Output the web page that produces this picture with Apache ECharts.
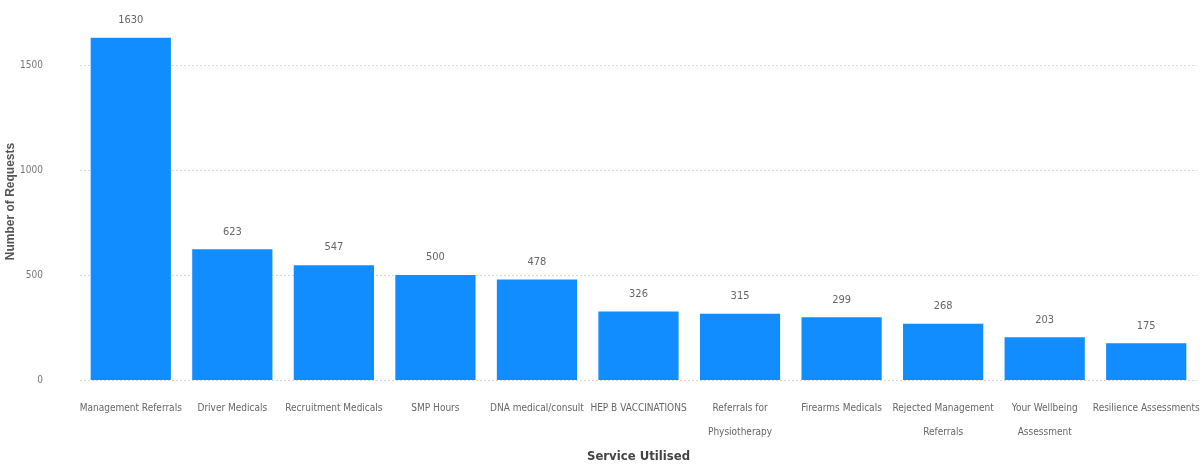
<!DOCTYPE html>
<html><head><meta charset="utf-8">
<script src="https://cdn.jsdelivr.net/npm/echarts@6/dist/echarts.min.js"></script>
<style>html,body{margin:0;padding:0;background:#fff}#c{width:1203px;height:464px}</style>
</head><body><div id="c"></div>
<script>
const categories = ["Management Referrals","Driver Medicals","Recruitment Medicals","SMP Hours","DNA medical/consult","HEP B VACCINATIONS","Referrals for\nPhysiotherapy","Firearms Medicals","Rejected Management\nReferrals","Your Wellbeing\nAssessment","Resilience Assessments"];
const requests = [1630,623,547,500,478,326,315,299,268,203,175];
const yTicks = [0,500,1000,1500];

const FONT = "'DejaVu Sans Condensed','Liberation Sans',sans-serif";
const chart = echarts.init(document.getElementById('c'));
chart.setOption({
  animation:false,
  grid:{left:80,right:6,top:23,bottom:84,containLabel:false,outerBoundsMode:'none'},
  xAxis:{type:'category',data:categories,
    axisLine:{show:false},axisTick:{show:false},
    axisLabel:{color:'#666',fontFamily:FONT,fontSize:10,margin:16,lineHeight:24,interval:0},
    name:'Service Utilised',nameLocation:'middle',nameGap:70,nameMoveOverlap:false,
    nameTextStyle:{color:'#444',fontFamily:FONT,fontSize:13,fontWeight:'bold'}},
  yAxis:{type:'value',min:0,max:1700,interval:500,
    axisLabel:{color:'#777',fontFamily:FONT,fontSize:10,margin:37,
      formatter:v=>yTicks.includes(v)?String(v):''},
    splitLine:{showMaxLine:false,lineStyle:{color:'#d8d8d8',type:[2,2],width:1}},
    name:'Number of Requests',nameLocation:'middle',nameGap:63,nameMoveOverlap:false,
    nameTextStyle:{color:'#555',fontFamily:"'Liberation Sans',sans-serif",fontSize:12,fontWeight:'bold'}},
  series:[{type:'bar',data:requests,barCategoryGap:'21%',
    itemStyle:{color:'#118DFF'},
    label:{show:true,position:'top',distance:12,color:'#666',fontFamily:FONT,fontSize:11}}]
});
</script></body></html>
